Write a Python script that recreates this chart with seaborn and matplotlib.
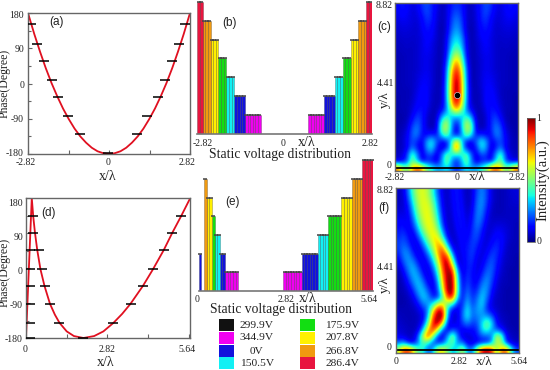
import numpy as np
import pandas as pd
import matplotlib
matplotlib.use('Agg')
import matplotlib.pyplot as plt
from matplotlib.patches import Rectangle
import seaborn as sns

W, H = 550, 370

# phase curves
a_x = [0, 0.2, 0.4, 0.6, 0.8, 1.0, 1.2, 1.4, 1.6, 1.8, 2.0, 2.2, 2.4, 2.6, 2.82]
a_phase = [-180, -178, -173, -164, -151, -135, -115, -91, -64, -33, 1, 39, 81, 126, 180]
a_dash_x = [-2.70, -2.51, -2.26, -2.0, -1.76, -1.42, -1.02, -0.05, 0.96, 1.34, 1.69, 1.95, 2.2, 2.44, 2.65]
a_dash_y = [153, 102, 57, 8, -35, -83, -130, -178, -130, -83, -35, 8, 57, 102, 153]

d_x = [0, 0.2, 0.25, 0.31, 0.39, 0.5, 0.64, 0.83, 1.0, 1.16, 1.41, 1.66, 1.99, 2.36, 2.68,
       3.03, 3.33, 3.62, 4.05, 4.40, 4.77, 5.07, 5.37, 5.69]
d_phase = [-180, 180, 133, 91, 46, -3, -46, -92, -120, -141, -163, -175, -180, -175, -163,
           -141, -118, -92, -46, -3, 46, 91, 133, 180]
d_dash_x = [0.14, 0.14, 0.14, 0.14, 0.14, 0.14, 0.23, 0.23, 0.46, 0.54, 0.67, 0.84, 1.16,
            1.99, 3.03, 3.62, 4.05, 4.40, 4.77, 5.07, 5.37]
d_dash_y = [-180, -141, -92, -46, -3, 46, 133, 91, 46, -3, -46, -92, -141,
            -180, -141, -92, -46, -3, 46, 91, 133]

# voltage distribution: levels and how many strips each run takes
b_levels = [7, 6, 5, 4, 3, 2, 1, 0, 1, 2, 3, 4, 5, 6, 7]
b_counts = [2, 3, 3, 3, 3, 4, 6, 18, 6, 4, 3, 3, 3, 3, 2]
e_levels = [2, 0, 6, 5, 4, 3, 2, 1, 0, 1, 2, 3, 4, 5, 6, 7]
e_counts = [1, 1, 1, 2, 1, 2, 2, 5, 17, 7, 6, 4, 5, 4, 4, 4]

voltages = ['299.9V', '344.9V', '0V', '150.5V', '175.9V', '207.8V', '266.8V', '286.4V']
level_colors = ['#111111', '#f000f0', '#1212dc', '#12f0f4', '#12de12', '#fff000', '#f09a10', '#e8153f']

# intensity maps, percent, top row first. (c) holds the centre and right half only
c_half = [
    [17, 15, 8, 5, 10, 15, 20, 17, 10, 8, 12, 15, 12],
    [20, 16, 8, 5, 9, 15, 20, 15, 9, 8, 11, 13, 10],
    [24, 18, 8, 5, 8, 15, 18, 12, 8, 8, 10, 11, 9],
    [27, 20, 8, 4, 8, 13, 16, 11, 7, 8, 9, 9, 8],
    [30, 23, 8, 4, 7, 12, 14, 10, 7, 7, 8, 8, 7],
    [35, 28, 10, 4, 7, 11, 12, 9, 7, 7, 7, 7, 6],
    [40, 32, 11, 4, 6, 9, 12, 9, 7, 6, 7, 6, 6],
    [50, 38, 12, 4, 6, 9, 11, 9, 7, 6, 6, 6, 5],
    [65, 48, 14, 4, 6, 8, 10, 9, 7, 6, 6, 5, 5],
    [80, 58, 18, 4, 5, 8, 10, 9, 7, 6, 6, 5, 5],
    [90, 68, 22, 4, 5, 8, 10, 9, 7, 6, 6, 5, 5],
    [96, 74, 24, 4, 5, 8, 11, 10, 8, 6, 6, 5, 5],
    [100, 76, 26, 4, 5, 8, 11, 11, 8, 6, 6, 5, 5],
    [100, 78, 27, 5, 5, 7, 12, 12, 9, 6, 5, 5, 5],
    [100, 76, 27, 5, 5, 6, 12, 13, 10, 6, 5, 5, 4],
    [94, 70, 26, 6, 5, 6, 12, 13, 11, 7, 5, 5, 4],
    [75, 55, 24, 10, 5, 5, 10, 14, 13, 8, 5, 5, 4],
    [35, 32, 38, 25, 6, 4, 8, 15, 18, 10, 5, 4, 4],
    [15, 30, 58, 42, 8, 4, 7, 15, 22, 15, 6, 4, 4],
    [6, 28, 60, 50, 9, 4, 8, 15, 26, 20, 8, 5, 4],
    [12, 24, 48, 34, 14, 18, 13, 12, 25, 22, 10, 6, 4],
    [72, 38, 12, 10, 22, 38, 30, 10, 15, 20, 12, 6, 5],
    [88, 42, 14, 8, 14, 35, 28, 8, 14, 25, 10, 6, 5],
    [35, 38, 48, 22, 8, 20, 18, 8, 28, 46, 18, 8, 6],
    [14, 28, 50, 26, 8, 12, 15, 10, 32, 48, 20, 10, 8],
    [15, 25, 35, 30, 30, 40, 50, 75, 85, 70, 50, 60, 80],
]
f_map = [
    [6, 8, 24, 46, 60, 62, 56, 40, 20, 8, 6, 12, 15, 9, 5, 8, 20, 26, 18, 8, 5, 5, 6, 8, 8],
    [6, 7, 20, 42, 58, 63, 58, 44, 24, 9, 6, 11, 15, 10, 5, 8, 22, 27, 18, 8, 5, 5, 6, 7, 8],
    [6, 7, 15, 36, 56, 63, 62, 50, 28, 10, 6, 10, 15, 11, 5, 9, 24, 27, 16, 7, 5, 5, 6, 7, 7],
    [8, 8, 12, 30, 52, 62, 64, 54, 32, 12, 6, 9, 15, 12, 6, 11, 25, 25, 13, 6, 5, 5, 6, 6, 6],
    [10, 10, 10, 24, 46, 60, 65, 58, 38, 14, 6, 8, 14, 13, 7, 13, 26, 22, 10, 6, 6, 6, 6, 6, 6],
    [12, 13, 10, 18, 38, 56, 65, 62, 44, 18, 6, 7, 13, 14, 8, 15, 25, 18, 8, 7, 8, 8, 7, 6, 5],
    [14, 16, 11, 12, 28, 48, 62, 65, 54, 26, 8, 6, 11, 14, 9, 17, 22, 14, 7, 8, 11, 10, 8, 6, 5],
    [16, 20, 14, 8, 18, 36, 54, 67, 66, 40, 12, 6, 9, 14, 11, 18, 20, 11, 7, 10, 14, 12, 8, 6, 5],
    [18, 22, 18, 9, 10, 24, 42, 60, 74, 66, 26, 7, 8, 13, 13, 19, 16, 9, 8, 13, 16, 12, 7, 5, 5],
    [16, 26, 24, 13, 8, 14, 30, 50, 74, 86, 55, 16, 7, 12, 14, 19, 13, 8, 10, 17, 17, 11, 6, 5, 5],
    [12, 24, 28, 20, 10, 10, 18, 38, 66, 92, 88, 35, 7, 10, 15, 18, 10, 8, 14, 20, 16, 9, 6, 5, 4],
    [8, 18, 28, 28, 16, 9, 12, 26, 54, 88, 100, 60, 12, 8, 15, 16, 8, 10, 18, 22, 14, 8, 5, 5, 4],
    [5, 12, 24, 32, 24, 11, 8, 18, 42, 82, 100, 88, 26, 8, 16, 14, 8, 13, 22, 22, 12, 7, 5, 4, 4],
    [4, 8, 18, 30, 30, 18, 8, 12, 32, 76, 100, 98, 36, 9, 18, 13, 9, 18, 26, 20, 10, 6, 5, 4, 4],
    [4, 6, 12, 24, 33, 26, 12, 9, 24, 68, 100, 100, 40, 10, 20, 13, 12, 24, 28, 17, 8, 5, 5, 4, 4],
    [4, 5, 8, 16, 30, 32, 20, 10, 18, 60, 100, 100, 42, 11, 24, 14, 16, 30, 27, 13, 7, 5, 4, 4, 4],
    [4, 4, 6, 10, 22, 34, 28, 14, 14, 42, 88, 92, 35, 12, 28, 16, 22, 34, 24, 10, 6, 5, 4, 4, 4],
    [4, 4, 5, 7, 13, 25, 28, 34, 56, 62, 50, 42, 15, 15, 33, 18, 26, 35, 18, 8, 6, 5, 4, 4, 4],
    [5, 5, 5, 5, 8, 14, 26, 62, 96, 92, 30, 10, 9, 20, 38, 22, 28, 30, 16, 10, 7, 5, 4, 4, 4],
    [6, 5, 5, 5, 6, 10, 30, 82, 100, 100, 25, 7, 8, 22, 38, 22, 25, 28, 30, 22, 9, 6, 5, 4, 4],
    [7, 6, 5, 5, 6, 14, 45, 92, 100, 68, 12, 8, 10, 18, 25, 18, 20, 35, 50, 35, 12, 7, 5, 4, 4],
    [8, 7, 6, 5, 8, 30, 72, 90, 60, 18, 10, 18, 15, 10, 12, 12, 16, 35, 42, 28, 20, 14, 6, 5, 4],
    [10, 8, 6, 6, 20, 62, 88, 52, 15, 8, 28, 55, 25, 8, 7, 9, 14, 20, 20, 25, 62, 45, 10, 6, 5],
    [22, 28, 12, 10, 25, 45, 35, 18, 14, 20, 40, 45, 25, 25, 10, 8, 10, 12, 14, 28, 60, 50, 15, 8, 6],
    [60, 85, 90, 70, 45, 40, 20, 30, 65, 70, 50, 30, 40, 60, 30, 25, 60, 95, 100, 90, 50, 80, 85, 40, 20],
]
focus_x = [0]
focus_y = [3.88]

sns.set_style('white')
plt.rcParams['font.family'] = ['Liberation Serif', 'DejaVu Serif']
fig = plt.figure(figsize=(W / 100, H / 100), dpi=100)
GRAY = '#666666'


def px_axes(left, top, right, bottom):
    return fig.add_axes([left / W, 1 - bottom / H, (right - left) / W, (bottom - top) / H])


def label(x, y, s, size=7, **kw):
    kw.setdefault('ha', 'center')
    fig.text(x / W, 1 - y / H, s, fontsize=size, va='center', color='#222222', **kw)


def panel(x, y, s):
    label(x, y, s, size=8.5, family='Liberation Sans')


def style_axes(ax):
    for sp in ax.spines.values():
        sp.set_visible(True)
        sp.set_color(GRAY)
        sp.set_linewidth(1)
    ax.set_xlabel('')
    ax.set_ylabel('')


def phase_panel(box, curve_x, curve_y, dash_x, dash_y, xlim, xticks):
    ax = px_axes(*box)
    sns.lineplot(x=curve_x, y=curve_y, sort=False, estimator=None, color='#e01020', lw=1.3, ax=ax)
    sns.scatterplot(x=dash_x, y=dash_y, marker='_', s=62, color='black', linewidth=1.1, ax=ax, zorder=3)
    ax.set_xlim(xlim)
    ax.set_ylim(-180, 180)
    ax.set_yticks([-180, -90, 0, 90, 180])
    ax.set_yticks([-135, -45, 45, 135], minor=True)
    ax.set_xticks(xticks)
    ax.tick_params(which='both', direction='in', color=GRAY, length=3, width=0.8,
                   bottom=True, left=True, labelbottom=False, labelleft=False)
    ax.tick_params(which='minor', length=2)
    style_axes(ax)
    return ax


def voltage_panel(box, levels, counts, xlim, ymax):
    ax = px_axes(*box)
    strip_levels = np.repeat(levels, counts)
    pitch = (xlim[1] - xlim[0]) / len(strip_levels)
    x = xlim[0] + (np.arange(len(strip_levels)) + 0.5) * pitch
    df = pd.DataFrame({'x': np.round(x, 4), 'level': strip_levels})
    df = df[df['level'] > 0]
    df['voltage'] = [voltages[v] for v in df['level']]
    sns.barplot(data=df, x='x', y='level', hue='voltage', hue_order=voltages,
                palette=dict(zip(voltages, level_colors)), native_scale=True, dodge=False,
                saturation=1, width=1, legend=False, edgecolor='#00000060', linewidth=0.4, ax=ax)
    # dark caps along the tops of the runs
    sns.scatterplot(data=df, x='x', y='level', marker='_', s=5, color='#444444', linewidth=1.1,
                    ax=ax, clip_on=False, zorder=4)
    ax.set_xlim(xlim)
    ax.set_ylim(0, ymax)
    sns.despine(ax=ax, left=True, top=True, right=True)
    ax.spines['bottom'].set_color('#777777')
    ax.spines['bottom'].set_linewidth(1.2)
    ax.set_xticks([])
    ax.set_yticks([])
    ax.set_xlabel('')
    ax.set_ylabel('')
    return ax


def intensity_panel(box, grid, xlim):
    ax = px_axes(*box)
    im = ax.imshow(np.array(grid) / 100, cmap='jet', vmin=0, vmax=1, aspect='auto',
                   interpolation='bicubic', extent=[xlim[0], xlim[1], -0.18, 8.82])
    ax.axhline(0, color='black', lw=1.3)
    ax.set_xticks([])
    ax.set_yticks([])
    style_axes(ax)
    return ax, im


# (a)
phase_panel((28, 13, 190, 154), [-v for v in a_x[::-1]] + a_x[1:], a_phase[::-1] + a_phase[1:],
            a_dash_x, a_dash_y, (-2.82, 2.82), [-2.82, -1.41, 0, 1.41, 2.82])
for y, s in zip([16, 50, 85, 119, 153], ['180', '90', '0', '-90', '-180']):
    label(24, y, s, ha='right')
for x, s in zip([26, 108, 187], ['-2.82', '0', '2.82']):
    label(x, 163, s)
label(108, 177, 'x/λ', size=10)
label(5, 83, 'Phase(Degree)', size=8.5, rotation=90)
panel(56, 22, '(a)')

# (d)
phase_panel((26, 198, 190, 338), d_x, d_phase, d_dash_x, d_dash_y, (0, 5.68), [0, 1.41, 2.82, 4.23, 5.64])
for y, s in zip([204, 238, 271, 305, 339], ['180', '90', '0', '-90', '-180']):
    label(23, y, s, ha='right')
for x, s in zip([25, 107, 187], ['0', '2.82', '5.64']):
    label(x, 349, s)
label(106, 362, 'x/λ', size=10)
label(5, 272, 'Phase(Degree)', size=8.5, rotation=90)
panel(48, 213, '(d)')

# (b)
voltage_panel((197.3, 1, 371.7, 134), b_levels, b_counts, (-2.82, 2.82), 7.04)
for x, s in zip([203, 283, 370], ['-2.82', '0', '2.82']):
    label(x, 143, s)
label(307, 142, 'x/λ', size=10)
label(280, 155, 'Static voltage distribution', size=9.8)
panel(230, 23, '(b)')

# (e)
voltage_panel((198.7, 159, 373, 291), e_levels, e_counts, (0, 5.64), 7.06)
for x, s in zip([197, 286, 369], ['0', '2.82', '5.64']):
    label(x, 299, s)
label(308, 299, 'x/λ', size=10)
label(281, 310, 'Static voltage distribution', size=9.8)
panel(232, 202, '(e)')

# legend under (e)
rows = [325, 338, 351, 363]
for i, (v, c) in enumerate(zip(voltages, level_colors)):
    col = i // 4
    y = rows[i % 4]
    x0 = [219, 300][col]
    fig.add_artist(Rectangle((x0 / W, 1 - (y + 6) / H), 15 / W, 12 / H, transform=fig.transFigure,
                             facecolor=c, edgecolor='none'))
    label([257, 342][col], y, v, size=8.2)

# (c)
c_grid = [row[:0:-1] + row for row in c_half]
ax_c, im = intensity_panel((395, 3, 518, 171), c_grid, (-2.82, 2.82))
sns.scatterplot(x=focus_x, y=focus_y, color='black', s=20, ax=ax_c, zorder=3)
ax_c.set_xlim(-2.82, 2.82)
ax_c.set_ylim(-0.18, 8.82)
ax_c.set_xlabel('')
ax_c.set_ylabel('')
for y, x, s in zip([6, 84, 165], [384, 385, 389], ['8.82', '4.41', '0']):
    label(x, y, s)
for x, s in zip([395, 457, 517], ['-2.82', '0', '2.82']):
    label(x, 177, s)
label(477, 177, 'x/λ', size=9.5)
label(385, 100, 'y/λ', size=9.5, rotation=90)
panel(384, 27, '(c)')

# (f)
intensity_panel((396, 188, 519, 353), f_map, (0, 5.64))
for y, x, s in zip([191, 267, 348], [385, 385, 389], ['8.82', '4.41', '0']):
    label(x, y, s)
for x, s in zip([396, 459, 519], ['0', '2.82', '5.64']):
    label(x, 362, s)
label(484, 362, 'x/λ', size=9.5)
label(385, 285, 'y/λ', size=9.5, rotation=90)
panel(384, 208, '(f)')

# colour bar
cax = px_axes(527, 118, 535, 242)
cb = fig.colorbar(im, cax=cax)
cb.set_ticks([])
cb.outline.set_edgecolor(GRAY)
cb.outline.set_linewidth(0.6)
label(539, 118, '1')
label(539, 242, '0')
label(543, 180, 'Intensity(a.u.)', size=10.5, rotation=90)

fig.savefig('out.png', dpi=100)
plt.close(fig)
